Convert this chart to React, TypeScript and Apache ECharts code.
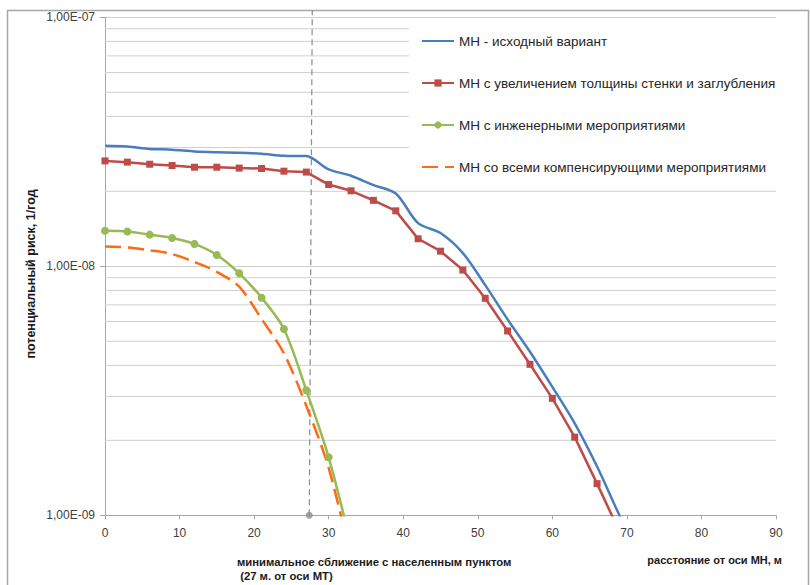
import React, { useEffect, useRef } from "react";
import * as echarts from "echarts";

// distances from the pipeline axis, m
const xBlue = [0, 3, 6, 9, 12, 15, 18, 21, 24, 27, 30, 33, 36, 39, 42, 45, 48, 51, 54, 57, 60, 63, 66, 69, 72];
const blueValues = [3.05e-8, 3.03e-8, 2.96e-8, 2.94e-8, 2.89e-8, 2.87e-8, 2.86e-8, 2.83e-8, 2.78e-8, 2.77e-8, 2.45e-8, 2.31e-8, 2.12e-8, 1.96e-8, 1.49e-8, 1.36e-8, 1.13e-8, 8.4e-9, 6.12e-9, 4.54e-9, 3.28e-9, 2.34e-9, 1.57e-9, 1.0e-9, 6.5e-10];

const xRed = [0, 3, 6, 9, 12, 15, 18, 21, 24, 27, 30, 33, 36, 39, 42, 45, 48, 51, 54, 57, 60, 63, 66, 69];
const redValues = [2.65e-8, 2.62e-8, 2.57e-8, 2.54e-8, 2.5e-8, 2.5e-8, 2.48e-8, 2.47e-8, 2.41e-8, 2.39e-8, 2.13e-8, 2.01e-8, 1.84e-8, 1.67e-8, 1.29e-8, 1.15e-8, 9.66e-9, 7.44e-9, 5.5e-9, 4.04e-9, 2.95e-9, 2.06e-9, 1.34e-9, 8.6e-10];

const xGreen = [0, 3, 6, 9, 12, 15, 18, 21, 24, 27, 30, 33];
const greenValues = [1.39e-8, 1.38e-8, 1.34e-8, 1.3e-8, 1.23e-8, 1.11e-8, 9.37e-9, 7.48e-9, 5.6e-9, 3.18e-9, 1.71e-9, 7.6e-10];

const xOrange = [0, 3, 6, 9, 12, 15, 18, 21, 24, 27, 30, 33];
const orangeValues = [1.2e-8, 1.19e-8, 1.16e-8, 1.12e-8, 1.04e-8, 9.5e-9, 8.28e-9, 6.15e-9, 4.47e-9, 2.75e-9, 1.55e-9, 6.7e-10];

// vertical marker: minimal approach to the settlement
const approachX = [27.4, 27.8];
const approachY = [1e-9, 1.07e-7];

const seriesNames = [
  "МН - исходный вариант",
  "МН с увеличением толщины стенки и заглубления",
  "МН с инженерными мероприятиями",
  "МН со всеми компенсирующими мероприятиями",
];

const minorGridValues = [
  2e-9, 3e-9, 4e-9, 5e-9, 6e-9, 7e-9, 8e-9, 9e-9,
  2e-8, 3e-8, 4e-8, 5e-8, 6e-8, 7e-8, 8e-8, 9e-8,
];
const xExtent = [0, 90];

const xTitle = "расстояние от оси МН, м";
const yTitle = "потенциальный риск, 1/год";
const noteLine1 = "минимальное сближение с населенным пунктом";
const noteLine2 = " (27 м. от оси МТ)";

const zip = (xs: number[], ys: number[]) => xs.map((x, i) => [x, ys[i]]);

const FONT = "'Liberation Sans', Arial, sans-serif";

const fmtExp = (v: number) => {
  const s = v.toExponential(2); // e.g. 1.00e-7
  const [m, e] = s.split("e");
  const n = parseInt(e, 10);
  const sign = n < 0 ? "-" : "+";
  return m.replace(".", ",") + "E" + sign + String(Math.abs(n)).padStart(2, "0");
};

export default function App() {
  const ref = useRef<HTMLDivElement>(null);

  useEffect(() => {
    if (!ref.current) return;
    const chart = echarts.init(ref.current, undefined, { renderer: "svg" });

    const gridSeries = minorGridValues.map((v, i) => ({
      name: "minorGrid" + i,
      type: "line",
      data: xExtent.map((x) => [x, v]),
      symbol: "none",
      silent: true,
      z: 1,
      lineStyle: { color: "#d0d0d0", width: 1 },
    }));

    const option: any = {
      animation: false,
      backgroundColor: "#ffffff",
      textStyle: { fontFamily: FONT },
      grid: { left: 105, right: 34, top: 17.3, bottom: 69.7, containLabel: false },
      legend: {
        data: [
          { name: seriesNames[0], itemStyle: { opacity: 0 } },
          { name: seriesNames[1] },
          { name: seriesNames[2] },
          { name: seriesNames[3], itemStyle: { opacity: 0 } },
        ],
        orient: "vertical",
        left: 409,
        top: 20,
        padding: [14, 2, 14, 12],
        backgroundColor: "#ffffff",
        itemWidth: 32,
        itemHeight: 9,
        itemGap: 28,
        textStyle: { fontFamily: FONT, fontSize: 13.5, color: "#262626" },
        z: 10,
      },
      xAxis: {
        type: "value",
        min: 0,
        max: 90,
        interval: 10,
        axisLine: { lineStyle: { color: "#a6a6a6", width: 1 } },
        axisTick: { show: true, length: 4, lineStyle: { color: "#a6a6a6" } },
        axisLabel: { fontSize: 12, color: "#404040", margin: 12, fontFamily: FONT },
        splitLine: { show: false },
      },
      yAxis: {
        type: "log",
        logBase: 10,
        min: 1e-9,
        max: 1e-7,
        splitNumber: 2,
        axisLine: { show: true, lineStyle: { color: "#a6a6a6", width: 1 } },
        axisTick: { show: true, length: 5, lineStyle: { color: "#a6a6a6" } },
        axisLabel: { fontSize: 12, color: "#404040", margin: 10, fontFamily: FONT, formatter: fmtExp },
        splitLine: { show: true, lineStyle: { color: "#d0d0d0", width: 1 } },
      },
      series: [
        ...gridSeries,
        {
          name: seriesNames[0],
          type: "line",
          data: zip(xBlue, blueValues),
          smooth: 0.3,
          symbol: "none",
          z: 3,
          itemStyle: { color: "#4a7ebb" },
          lineStyle: { color: "#4a7ebb", width: 2.5 },
        },
        {
          name: seriesNames[1],
          type: "line",
          data: zip(xRed, redValues),
          smooth: false,
          symbol: "rect",
          symbolSize: 7,
          z: 3,
          itemStyle: { color: "#be4b48" },
          lineStyle: { color: "#be4b48", width: 2.5 },
        },
        {
          name: seriesNames[2],
          type: "line",
          data: zip(xGreen, greenValues),
          smooth: 0.3,
          symbol: "circle",
          symbolSize: 8,
          z: 3,
          itemStyle: { color: "#98b954" },
          lineStyle: { color: "#98b954", width: 2.5 },
        },
        {
          name: seriesNames[3],
          type: "line",
          data: zip(xOrange, orangeValues),
          smooth: 0.3,
          symbol: "none",
          z: 3,
          itemStyle: { color: "#ff6a13" },
          lineStyle: { color: "#ff6a13", width: 2.5, type: [16, 7] },
        },
        {
          name: "approach",
          type: "line",
          data: zip(approachX, approachY),
          clip: false,
          symbol: "none",
          z: 2,
          lineStyle: { color: "#8c8c8c", width: 1.2, type: [6, 4] },
        },
        {
          name: "approachDot",
          type: "scatter",
          data: [[approachX[0], approachY[0]]],
          clip: false,
          symbol: "circle",
          symbolSize: 7,
          z: 4,
          itemStyle: { color: "#8c8c8c" },
        },
      ],
      graphic: [
        {
          type: "rect",
          shape: { x: 7.5, y: 10.5, width: 801, height: 600 },
          style: { fill: "none", stroke: "#a6a6a6", lineWidth: 1.5 },
          silent: true,
          z: 0,
        },
        {
          type: "text",
          x: 31,
          y: 274,
          rotation: Math.PI / 2,
          style: {
            text: yTitle,
            font: `bold 12.5px ${FONT}`,
            fill: "#1a1a1a",
            align: "center",
            verticalAlign: "middle",
          },
        },
        {
          type: "text",
          right: 28,
          top: 554,
          style: { text: xTitle, font: `bold 11px ${FONT}`, fill: "#1a1a1a" },
        },
        {
          type: "text",
          left: 237,
          top: 556,
          style: { text: noteLine1, font: `bold 11.3px ${FONT}`, fill: "#1a1a1a" },
        },
        {
          type: "text",
          left: 237,
          top: 570,
          style: { text: noteLine2, font: `bold 11.3px ${FONT}`, fill: "#1a1a1a" },
        },
      ],
    };
    chart.setOption(option);
    return () => chart.dispose();
  }, []);

  return (
    <div
      ref={ref}
      style={{ position: "fixed", left: 0, top: 0, width: 810, height: 585 }}
    />
  );
}
